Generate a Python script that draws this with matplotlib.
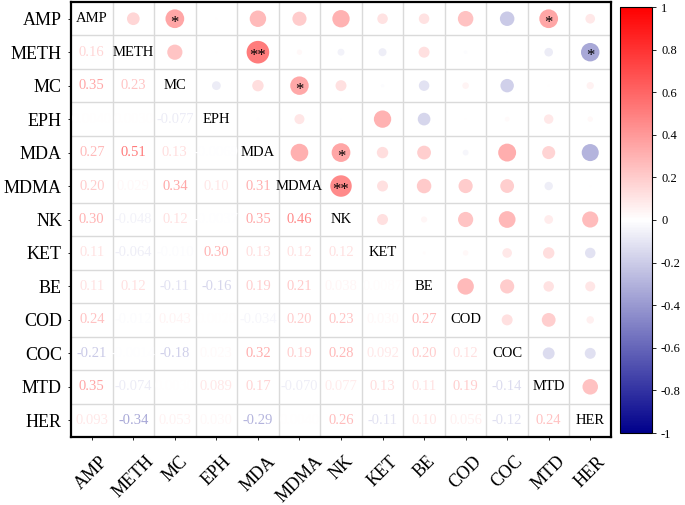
import matplotlib

matplotlib.use("Agg")
import matplotlib.pyplot as plt
import numpy as np
from matplotlib.colors import LinearSegmentedColormap, Normalize
from matplotlib.cm import ScalarMappable

plt.rcParams["font.family"] = ["Liberation Serif", "DejaVu Serif"]

# --- data: lower triangle of the correlation matrix (row i, cols 0..i-1) -----
labels = ["AMP", "METH", "MC", "EPH", "MDA", "MDMA", "NK", "KET", "BE",
          "COD", "COC", "MTD", "HER"]

lower_rows = [
    [],
    [0.16],
    [0.35, 0.23],
    [0.004, 0.003, -0.077],
    [0.27, 0.51, 0.13, -0.0069],
    [0.20, 0.029, 0.34, 0.10, 0.31],
    [0.30, -0.048, 0.12, -0.0037, 0.35, 0.46],
    [0.11, -0.064, -0.010, 0.30, 0.13, 0.12, 0.12],
    [0.11, 0.12, -0.11, -0.16, 0.19, 0.21, 0.038, 0.0087],
    [0.24, -0.012, 0.043, 0.002, -0.034, 0.20, 0.23, 0.030, 0.27],
    [-0.21, -0.0014, -0.18, 0.023, 0.32, 0.19, 0.28, 0.092, 0.20, 0.12],
    [0.35, -0.074, 0.003, 0.089, 0.17, -0.070, 0.077, 0.13, 0.11, 0.19, -0.14],
    [0.093, -0.34, 0.053, 0.030, -0.29, 0.004, 0.26, -0.11, 0.10, 0.056, -0.12, 0.24],
]

# significance marks in the upper triangle: (row, col, mark)
stars = [(0, 2, "*"), (1, 4, "**"), (2, 5, "*"), (4, 6, "*"), (5, 6, "**"),
         (0, 11, "*"), (1, 12, "*")]

cbar_ticks = [1, 0.8, 0.6, 0.4, 0.2, 0, -0.2, -0.4, -0.6, -0.8, -1]

n = len(labels)
corr = np.eye(n)
for i, row in enumerate(lower_rows):
    for j, v in enumerate(row):
        corr[i, j] = corr[j, i] = v

cmap = LinearSegmentedColormap.from_list("bwr_corr", ["#00008B", "#FFFFFF", "#FF0000"])
norm = Normalize(-1, 1)


def fmt(v):
    if v == 0:
        return "0"
    d = max(2, 1 - int(np.floor(np.log10(abs(v)))))
    return f"{v:.{d}f}"


fig = plt.figure(figsize=(6.85, 5.05), dpi=100)
ax = fig.add_axes([71 / 685, 1 - 437 / 505, 540 / 685, 435 / 505])

# grid lines between cells
for k in range(1, n):
    ax.axhline(k - 0.5, color="#DADADA", lw=1.0, zorder=0)
    ax.axvline(k - 0.5, color="#DADADA", lw=1.0, zorder=0)

# upper triangle: circles
iu, ju = np.triu_indices(n, k=1)
vals = corr[iu, ju]
ax.scatter(ju, iu, s=520 * np.abs(vals), c=vals, cmap=cmap, norm=norm,
           edgecolors="none", zorder=2)
for i, j, mark in stars:
    ax.text(j, i + 0.12, mark, ha="center", va="center", fontsize=12, zorder=3)

# diagonal: names; lower triangle: numbers
for i in range(n):
    ax.text(i, i, labels[i], ha="center", va="center", fontsize=10.5)
    for j in range(i):
        ax.text(j, i, fmt(corr[i, j]), ha="center", va="center", fontsize=10.5,
                color=cmap(norm(corr[i, j])))

ax.set_xlim(-0.5, n - 0.5)
ax.set_ylim(n - 0.5, -0.5)
ax.set_xticks(range(n))
ax.set_yticks(range(n))
ax.set_xticklabels(labels, rotation=45, ha="center", va="top", fontsize=13)
ax.set_yticklabels(labels, fontsize=13)
ax.tick_params(length=2.5, width=0.6, pad=4)
ax.tick_params(axis="x", pad=9)
for sp in ax.spines.values():
    sp.set_linewidth(1.6)

# colorbar
cax = fig.add_axes([620 / 685, 1 - 433 / 505, 32 / 685, 426 / 505])
cb = fig.colorbar(ScalarMappable(norm=norm, cmap=cmap), cax=cax)
cb.set_ticks(cbar_ticks)
cb.set_ticklabels([f"{t:g}" for t in cbar_ticks])
cb.ax.tick_params(labelsize=9, length=3, width=0.6)
cb.outline.set_linewidth(0.8)

fig.savefig("out.png", dpi=100)
